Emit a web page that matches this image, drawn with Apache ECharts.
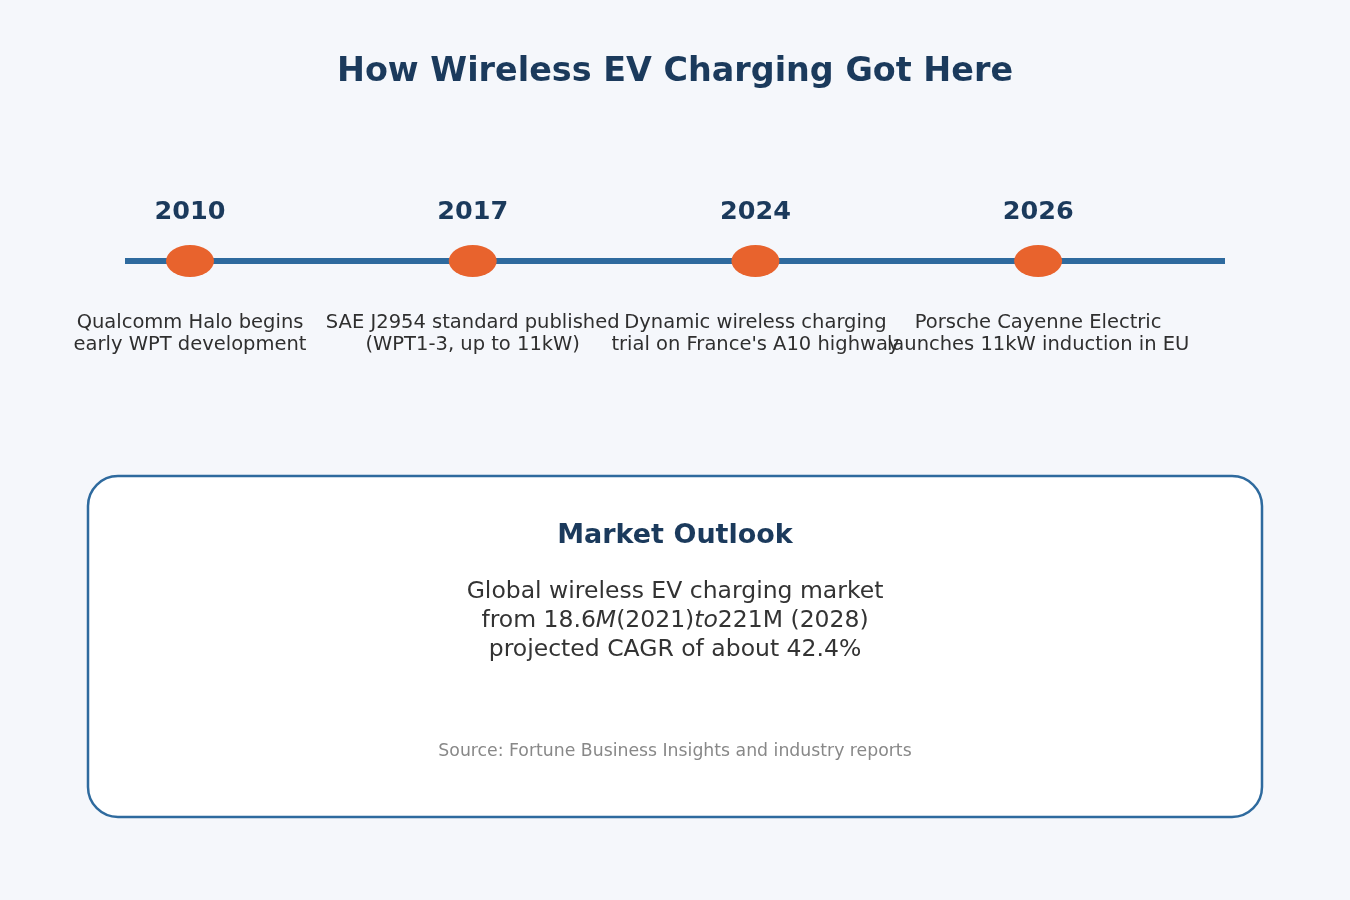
<!DOCTYPE html>
<html>
<head>
<meta charset="utf-8">
<script src="https://cdn.jsdelivr.net/npm/echarts@6/dist/echarts.min.js"></script>
<style>
  html, body { margin: 0; padding: 0; background: #f5f7fb; }
  #chart { width: 1350px; height: 900px; }
</style>
</head>
<body>
<div id="chart"></div>
<script>
// timeline data
const years = ['2010', '2017', '2024', '2026'];
const events = [
  'Qualcomm Halo begins\nearly WPT development',
  'SAE J2954 standard published\n(WPT1-3, up to 11kW)',
  'Dynamic wireless charging\ntrial on France\'s A10 highway',
  'Porsche Cayenne Electric\nlaunches 11kW induction in EU'
];

// market outlook box
const outlookTitle = 'Market Outlook';
const outlookLines = [
  'Global wireless EV charging market',
  'from 18.6{i|M}(2021){i|to}221M (2028)',
  'projected CAGR of about 42.4%'
];
const sourceNote = 'Source: Fortune Business Insights and industry reports';

const FONT = '"DejaVu Sans", sans-serif';
const NAVY = '#1b3a5c';
const BLUE = '#2e6a9e';
const ORANGE = '#e8632d';

const points = years.map((y, i) => [i, 0]);

const chart = echarts.init(document.getElementById('chart'));

chart.setOption({
  backgroundColor: '#f5f7fb',
  animation: false,
  grid: { left: 125, right: 125, top: 161, bottom: 539 },
  xAxis: {
    type: 'value',
    min: -0.23,
    max: 3.661,
    axisLine: { onZero: true, lineStyle: { color: BLUE, width: 6, cap: 'butt' } },
    axisTick: { show: false },
    axisLabel: { show: false },
    splitLine: { show: false }
  },
  yAxis: {
    type: 'value',
    min: -1,
    max: 1,
    show: false
  },
  series: [
    {
      type: 'scatter',
      data: points,
      symbol: 'circle',
      symbolSize: [48, 32],
      itemStyle: { color: ORANGE, opacity: 1 },
      z: 5,
      label: {
        show: true,
        position: 'top',
        distance: 20,
        formatter: p => years[p.dataIndex],
        fontFamily: FONT,
        fontWeight: 'bold',
        fontSize: 25.5,
        lineHeight: 25,
        color: NAVY
      }
    },
    {
      type: 'scatter',
      data: points,
      symbol: 'circle',
      symbolSize: [48, 32],
      itemStyle: { color: '#333333', opacity: 0 },
      silent: true,
      z: 4,
      label: {
        show: true,
        position: 'bottom',
        distance: 35,
        formatter: p => events[p.dataIndex],
        fontFamily: FONT,
        fontSize: 19.5,
        lineHeight: 22,
        align: 'center',
        color: '#2f2f2f',
        opacity: 1
      }
    }
  ],
  graphic: [
    {
      type: 'text',
      x: 675,
      y: 72,
      style: {
        text: 'How Wireless EV Charging Got Here',
        font: 'bold 33.4px ' + FONT,
        fill: NAVY,
        textAlign: 'center',
        textVerticalAlign: 'middle'
      }
    },
    {
      type: 'rect',
      shape: { x: 88, y: 476, width: 1174, height: 341, r: 30 },
      style: { fill: '#ffffff', stroke: BLUE, lineWidth: 2.5 },
      z: 1
    },
    {
      type: 'text',
      x: 675,
      y: 536,
      z: 2,
      style: {
        text: outlookTitle,
        font: 'bold 27px ' + FONT,
        fill: NAVY,
        textAlign: 'center',
        textVerticalAlign: 'middle'
      }
    },
    {
      type: 'text',
      x: 675,
      y: 621,
      z: 2,
      style: {
        text: outlookLines.join('\n'),
        fontFamily: FONT,
        fontSize: 23.5,
        lineHeight: 29,
        fill: '#333333',
        textAlign: 'center',
        textVerticalAlign: 'middle',
        rich: {
          i: { fontFamily: FONT, fontSize: 23.5, lineHeight: 29, fontStyle: 'italic', fill: '#333333' }
        }
      }
    },
    {
      type: 'text',
      x: 675,
      y: 752,
      z: 2,
      style: {
        text: sourceNote,
        font: '17.3px ' + FONT,
        fill: '#888888',
        textAlign: 'center',
        textVerticalAlign: 'middle'
      }
    }
  ]
});
</script>
</body>
</html>
